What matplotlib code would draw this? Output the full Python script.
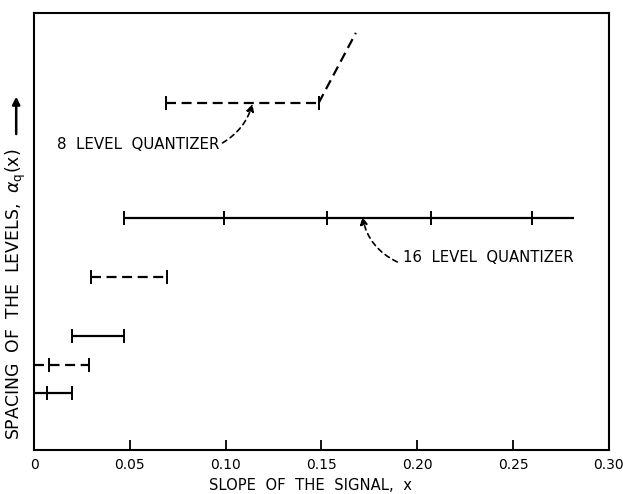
import matplotlib
matplotlib.use('Agg')
import matplotlib.pyplot as plt
from matplotlib.patches import FancyArrowPatch

plt.rcParams['font.family'] = ['DejaVu Sans']

# 16 level quantizer: solid steps (x extent, tick positions, level)
q16_x = [[0.0, 0.0197], [0.0197, 0.047], [0.047, 0.282]]
q16_ticks = [[0.0067, 0.0197], [0.0197, 0.047], [0.047, 0.099, 0.153, 0.207, 0.260]]
q16_y = [57, 114, 232]

# 8 level quantizer: dashed steps
q8_x = [[0.0, 0.0286], [0.030, 0.0695], [0.069, 0.1486]]
q8_ticks = [[0.008, 0.0286], [0.030, 0.0695], [0.069, 0.1486]]
q8_y = [85, 173, 347]
# last 8 level step rising off the top
q8_tail_x = [0.1486, 0.168]
q8_tail_y = [347, 417]

xticks = [0, 0.05, 0.10, 0.15, 0.20, 0.25, 0.30]
xtick_labels = ['0', '0.05', '0.10', '0.15', '0.20', '0.25', '0.30']

fig = plt.figure(figsize=(6.23, 4.94), dpi=100)
ax = fig.add_axes([0.0546, 0.089, 0.9225, 0.885])
ax.set_xlim(0, 0.30)
ax.set_ylim(0, 437)

lw = 1.6
for xs, ts, y in zip(q16_x, q16_ticks, q16_y):
    ax.plot(xs, [y, y], color='black', lw=lw, solid_capstyle='butt')
    ax.plot(ts, [y] * len(ts), ls='none', marker='|', ms=10, mew=1.4, color='black')

for xs, ts, y in zip(q8_x, q8_ticks, q8_y):
    ax.plot(xs, [y, y], color='black', lw=lw, dashes=(4.5, 2.5))
    ax.plot(ts, [y] * len(ts), ls='none', marker='|', ms=10, mew=1.4, color='black')
ax.plot(q8_tail_x, q8_tail_y, color='black', lw=lw, dashes=(4.5, 2.5))

# labels with dashed pointers
ax.text(0.012, 305, '8  LEVEL  QUANTIZER', fontsize=10.8, va='center', ha='left')
ax.annotate('', xy=(0.114, 346), xytext=(0.0984, 307),
            arrowprops=dict(arrowstyle='-|>', color='black', lw=1.2, ls=(0, (3, 2.5)),
                            shrinkA=0, shrinkB=0, mutation_scale=11,
                            connectionstyle='arc3,rad=0.2'))
ax.text(0.1925, 192, '16  LEVEL  QUANTIZER', fontsize=10.7, va='center', ha='left')
ax.annotate('', xy=(0.1714, 233), xytext=(0.1896, 188),
            arrowprops=dict(arrowstyle='-|>', color='black', lw=1.2, ls=(0, (3, 2.5)),
                            shrinkA=0, shrinkB=0, mutation_scale=11,
                            connectionstyle='arc3,rad=-0.25'))

ax.set_xticks(xticks)
ax.set_xticklabels(xtick_labels, fontsize=10)
ax.set_yticks([])
ax.tick_params(axis='x', direction='in', length=7, width=1.3, pad=6)
for s in ax.spines.values():
    s.set_linewidth(1.5)

fig.text(0.4976, 0.017, 'SLOPE  OF  THE  SIGNAL,  x', fontsize=10.6, ha='center', va='center')
fig.text(0.026, 0.405, r'SPACING  OF  THE  LEVELS,  $\alpha_{\mathrm{q}}\mathrm{(x)}$',
         fontsize=12.4, rotation=90, ha='center', va='center')
fig.add_artist(FancyArrowPatch(
    (0.026, 0.723), (0.026, 0.81), transform=fig.transFigure,
    arrowstyle='-|>', mutation_scale=11, color='black', lw=1.8))

fig.savefig('out.png', dpi=100)
